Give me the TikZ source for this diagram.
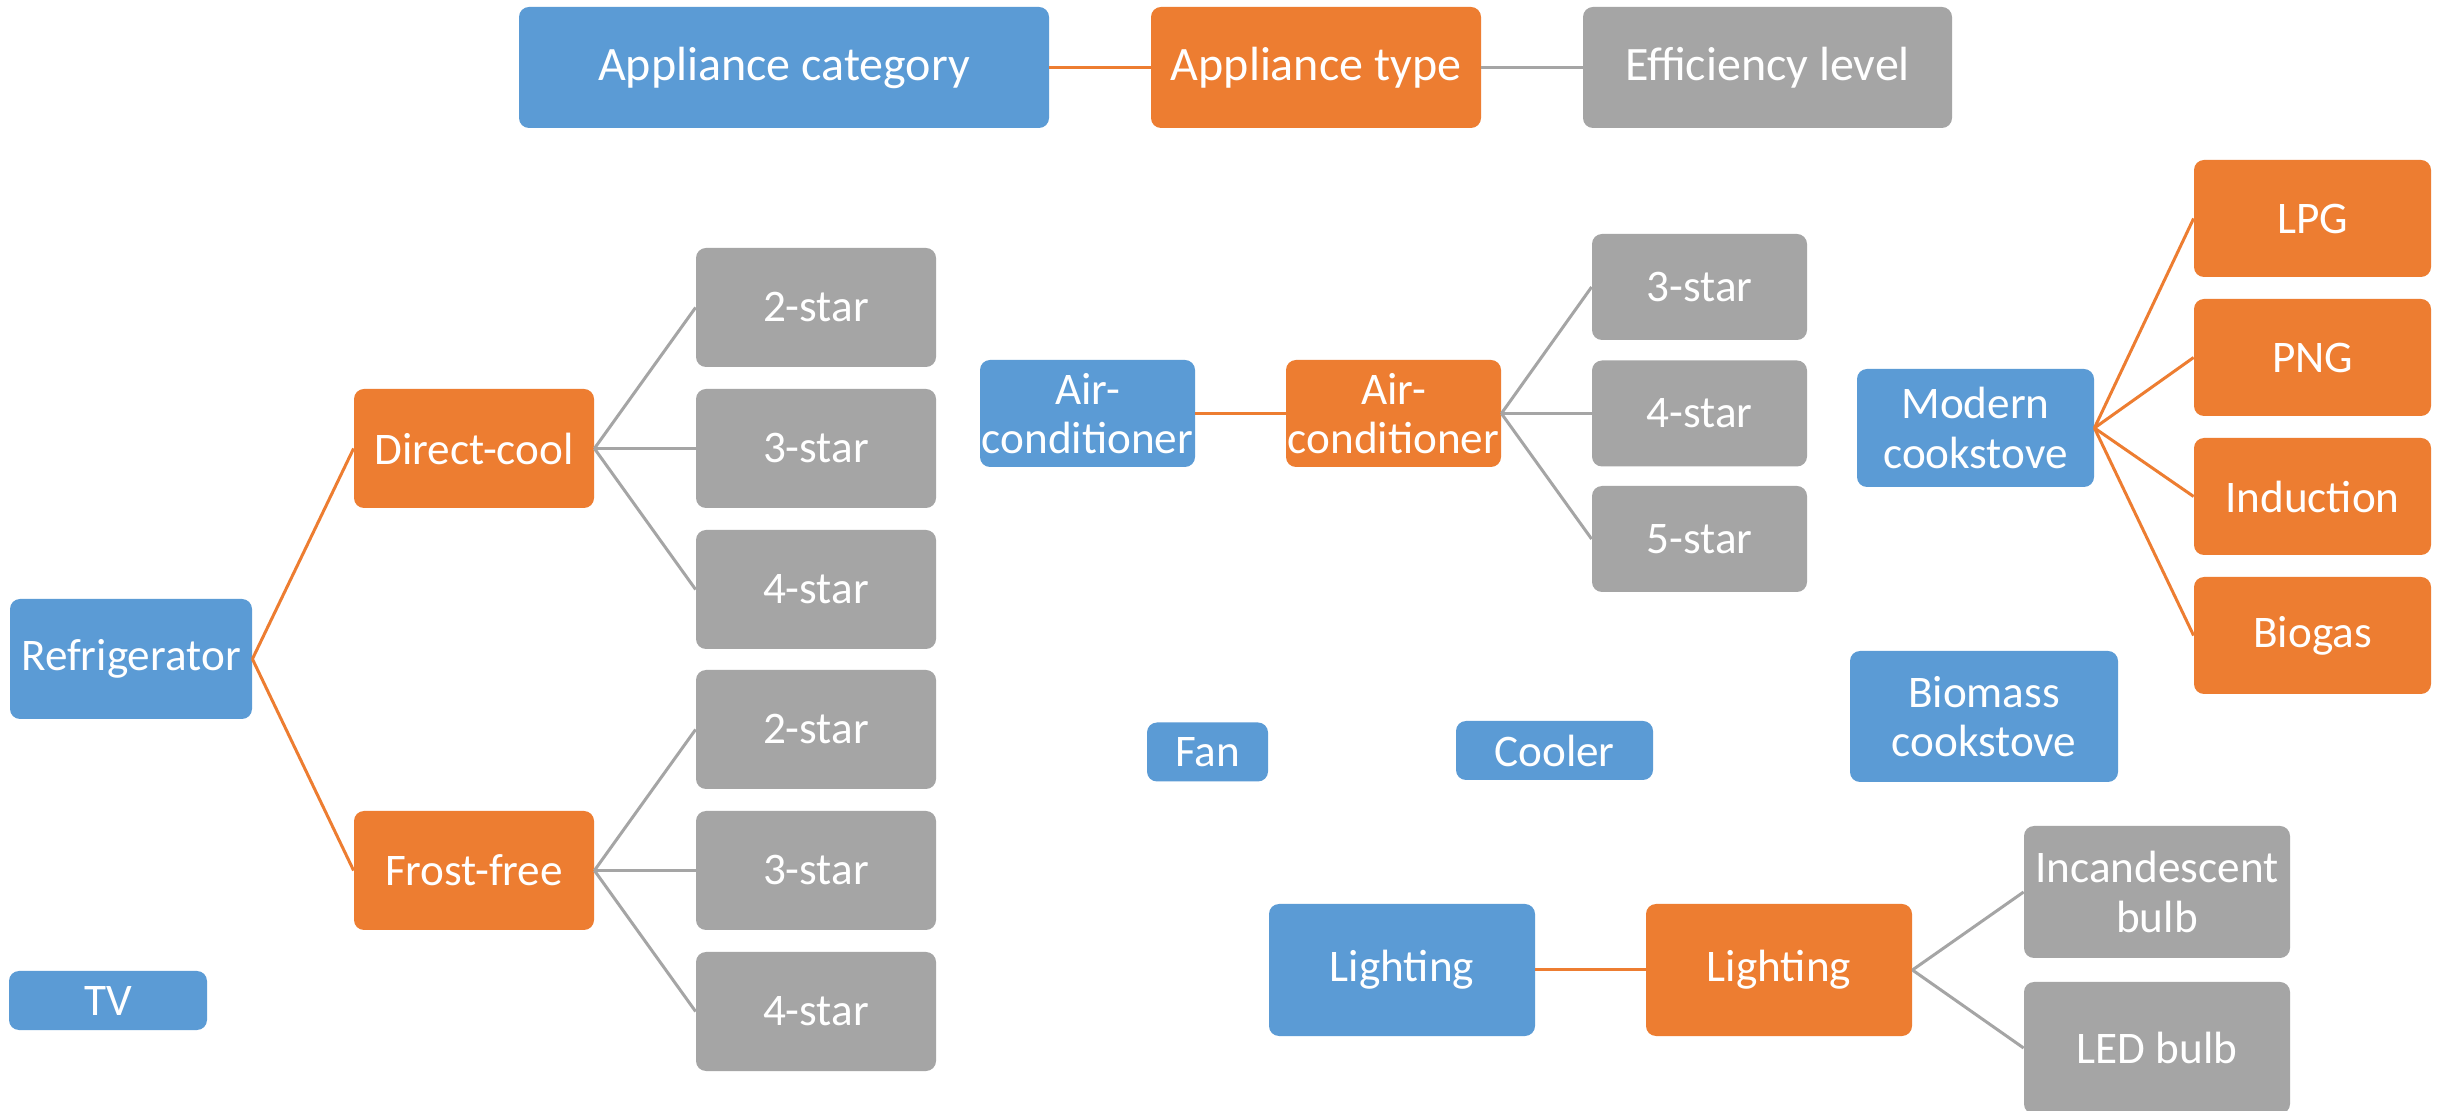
\documentclass[tikz,border=0pt]{standalone}
\usepackage{fontspec}
\setmainfont{Carlito}
\definecolor{cblue}{HTML}{5B9BD5}
\definecolor{corange}{HTML}{ED7D31}
\definecolor{cgray}{HTML}{A5A5A5}
\begin{document}
\begin{tikzpicture}[x=0.5pt,y=-0.5pt,
  box/.style={rounded corners=5pt, inner sep=0pt, align=center, text=white,
    font=\fontsize{22.6}{24.8}\selectfont},
  sz/.style 2 args={minimum width=#1*0.5pt, minimum height=#2*0.5pt},
  bluebox/.style={box, fill=cblue},
  orangebox/.style={box, fill=corange},
  graybox/.style={box, fill=cgray},
  big/.style={font=\fontsize{24}{28}\selectfont},
  oline/.style={draw=corange, line width=1.5pt},
  gline/.style={draw=cgray, line width=1.5pt}
]
\useasboundingbox (0,0) rectangle (2443,1111);
\fill[white] (0,0) rectangle (2443,1111);

% legend row
\node[bluebox, big, sz={530}{121}] (cat) at (784,67.5) {Appliance category};
\node[orangebox, big, sz={330}{121}] (typ) at (1316,67.5) {Appliance type};
\node[graybox, big, sz={369}{121}] (eff) at (1767.5,67.5) {Efficiency level};
\draw[oline] (cat.east) -- (typ.west);
\draw[gline] (typ.east) -- (eff.west);

% refrigerator
\node[bluebox, sz={242}{120}] (fr) at (131,659) {Refrigerator};
\node[orangebox, sz={240}{119}] (dc) at (474,448.5) {Direct-cool};
\node[orangebox, sz={240}{119}] (ff) at (474,870.5) {Frost-free};
\node[graybox, sz={240}{119}] (dc2) at (816,307.5) {2-star};
\node[graybox, sz={240}{119}] (dc3) at (816,448.5) {3-star};
\node[graybox, sz={240}{119}] (dc4) at (816,589.5) {4-star};
\node[graybox, sz={240}{119}] (ff2) at (816,729.5) {2-star};
\node[graybox, sz={240}{119}] (ff3) at (816,870.5) {3-star};
\node[graybox, sz={240}{119}] (ff4) at (816,1011.5) {4-star};
\draw[oline] (fr.east) -- (dc.west);
\draw[oline] (fr.east) -- (ff.west);
\foreach \t in {dc2,dc3,dc4} \draw[gline] (dc.east) -- (\t.west);
\foreach \t in {ff2,ff3,ff4} \draw[gline] (ff.east) -- (\t.west);

% air-conditioner
\node[bluebox, sz={215}{107}] (acb) at (1087.5,413.5) {Air-\\conditioner};
\node[orangebox, sz={215}{107}] (aco) at (1393.5,413.5) {Air-\\conditioner};
\node[graybox, sz={215}{106}] (ac3) at (1699.5,287) {3-star};
\node[graybox, sz={215}{106}] (ac4) at (1699.5,413.5) {4-star};
\node[graybox, sz={215}{106}] (ac5) at (1699.5,539) {5-star};
\draw[oline] (acb.east) -- (aco.west);
\foreach \t in {ac3,ac4,ac5} \draw[gline] (aco.east) -- (\t.west);

% cookstove
\node[bluebox, sz={237}{118}] (mc) at (1975.5,428) {Modern\\cookstove};
\node[orangebox, sz={237}{117}] (lpg) at (2312.5,218.5) {LPG};
\node[orangebox, sz={237}{117}] (png) at (2312.5,357.5) {PNG};
\node[orangebox, sz={237}{117}] (ind) at (2312.5,496.5) {Induction};
\node[orangebox, sz={237}{117}] (bio) at (2312.5,635.5) {Biogas};
\foreach \t in {lpg,png,ind,bio} \draw[oline] (mc.east) -- (\t.west);
\node[bluebox, sz={268}{131}] (bm) at (1984,716.5) {Biomass\\cookstove};

% single categories
\node[bluebox, sz={121}{59}] (fan) at (1207.5,752) {Fan};
\node[bluebox, sz={197}{59}] (cool) at (1554.5,750.5) {Cooler};
\node[bluebox, sz={198}{59}] (tv) at (108,1000.5) {TV};

% lighting
\node[bluebox, sz={266}{132}] (lb) at (1402,970) {Lighting};
\node[orangebox, sz={266}{132}] (lo) at (1779,970) {Lighting};
\node[graybox, sz={266}{132}] (inc) at (2157,892) {Incandescent\\bulb};
\node[graybox, sz={266}{132}] (led) at (2157,1048) {LED bulb};
\draw[oline] (lb.east) -- (lo.west);
\draw[gline] (lo.east) -- (inc.west);
\draw[gline] (lo.east) -- (led.west);
\end{tikzpicture}
\end{document}
